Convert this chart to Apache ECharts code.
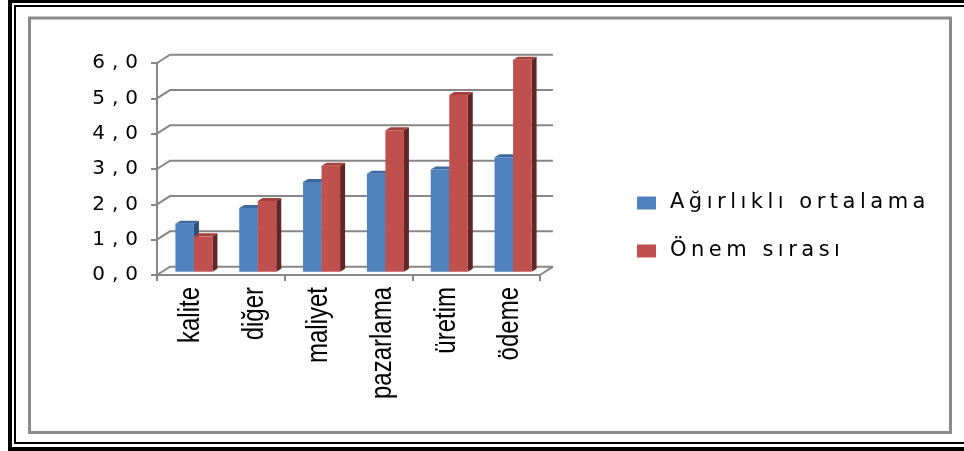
<!DOCTYPE html>
<html>
<head>
<meta charset="utf-8">
<title>Ağırlıklı ortalama ve önem sırası</title>
<script src="https://cdn.jsdelivr.net/npm/echarts@6/dist/echarts.min.js"></script>
<style>
  html, body { margin: 0; padding: 0; background: #ffffff; }
  #chart { width: 964px; height: 451px; }
</style>
</head>
<body>
<div id="chart"></div>
<script>
// Categories along the floor of the chart
const categories = ['kalite', 'diğer', 'maliyet', 'pazarlama', 'üretim', 'ödeme'];

// Series values
const seriesNames = ['Ağırlıklı ortalama', 'Önem sırası'];
const agirlikliOrtalama = [1.36, 1.80, 2.54, 2.77, 2.89, 3.24];
const onemSirasi = [1, 2, 3, 4, 5, 6];

// Value axis ticks and their labels
const yTicks = [0, 1, 2, 3, 4, 5, 6];
const yTickLabels = ['0,0', '1,0', '2,0', '3,0', '4,0', '5,0', '6,0'];

// Pseudo-3D geometry: back wall offset and bar depth
const WALL_DX = 13, WALL_DY = -8.3;
const BAR_DX = 5, BAR_DY = -3.3;
const DEPTH_X = 5, DEPTH_Y = -3;
const BAR_FRACTION = 0.29;

const AXIS_GRAY = '#878787';
const CATEGORY_LABEL_GAP = 12;

// Wrap each character in a rich-text token so the glyphs get extra tracking
function tracked(text, mid, last, first) {
  const chars = Array.from(text);
  return chars.map((c, i) => {
    let key = i < chars.length - 1 ? mid : last;
    if (i === 0 && first) key = first;
    return '{' + key + '|' + c + '}';
  }).join('');
}

function wallRenderer(params, api) {
  const v = api.value(1);
  const cs = params.coordSys;
  const y = api.coord([0, v])[1];
  const x0 = cs.x;
  const children = [{
    type: 'polyline',
    shape: { points: [[x0, y], [x0 + WALL_DX, y + WALL_DY], [x0 + cs.width + WALL_DX, y + WALL_DY]] },
    style: { stroke: AXIS_GRAY, lineWidth: 2, fill: null }
  }];
  if (v === 0) {
    children.push({
      type: 'line',
      shape: { x1: x0 + cs.width, y1: y, x2: x0 + cs.width + WALL_DX, y2: y + WALL_DY },
      style: { stroke: AXIS_GRAY, lineWidth: 2 }
    });
  }
  return { type: 'group', children: children };
}

function barRenderer(side, colors) {
  return function (params, api) {
    const idx = api.value(0);
    const v = api.value(1);
    const base = api.coord([idx, 0]);
    const top = api.coord([idx, v]);
    const band = api.size([1, 0])[0];
    const w = band * BAR_FRACTION;
    const cx = base[0] + BAR_DX;
    const x0 = side < 0 ? cx - w : cx;
    const x1 = x0 + w;
    const yb = base[1] + BAR_DY;
    const yt = top[1] + BAR_DY;
    return {
      type: 'group',
      children: [
        {
          type: 'polygon',
          shape: { points: [[x1, yb], [x1 + DEPTH_X, yb + DEPTH_Y], [x1 + DEPTH_X, yt + DEPTH_Y], [x1, yt]] },
          style: { fill: colors.side }
        },
        {
          type: 'polygon',
          shape: { points: [[x0, yt], [x1, yt], [x1 + DEPTH_X, yt + DEPTH_Y], [x0 + DEPTH_X, yt + DEPTH_Y]] },
          style: { fill: colors.top }
        },
        {
          type: 'rect',
          shape: { x: x0, y: yt, width: w, height: yb - yt },
          style: { fill: colors.front }
        }
      ]
    };
  };
}

// Category names under the floor, upright and condensed
function categoryLabelRenderer(params, api) {
  const idx = api.value(0);
  const p = api.coord([idx, 0]);
  return {
    type: 'text',
    x: p[0] + 2,
    y: p[1] + CATEGORY_LABEL_GAP,
    rotation: Math.PI / 2,
    scaleX: 0.8,
    scaleY: 1,
    style: {
      text: categories[idx],
      align: 'right',
      verticalAlign: 'middle',
      fill: '#000000',
      font: "30px 'Liberation Sans', Arial, sans-serif"
    }
  };
}

const blue = { front: '#4F81BD', top: '#3C6A9F', side: '#2D4F78' };
const red = { front: '#C0504D', top: '#A4413E', side: '#642624' };

const tickFont = { fontFamily: 'DejaVu Sans', fontSize: 20, color: '#000000', lineHeight: 22 };
const legendFont = { fontFamily: 'DejaVu Sans', fontSize: 21, color: '#000000', lineHeight: 24 };

const chart = echarts.init(document.getElementById('chart'), null, { renderer: 'canvas' });

chart.setOption({
  backgroundColor: '#ffffff',
  animation: false,
  graphic: [
    // double black frame (outer thick, inner thin)
    { type: 'rect', shape: { x: 8, y: 0, width: 4, height: 451 }, style: { fill: '#000' } },
    { type: 'rect', shape: { x: 8, y: 0, width: 956, height: 3 }, style: { fill: '#000' } },
    { type: 'rect', shape: { x: 8, y: 447, width: 956, height: 4 }, style: { fill: '#000' } },
    { type: 'rect', shape: { x: 14, y: 5, width: 2, height: 439 }, style: { fill: '#000' } },
    { type: 'rect', shape: { x: 14, y: 5, width: 950, height: 2 }, style: { fill: '#000' } },
    { type: 'rect', shape: { x: 14, y: 442, width: 950, height: 2 }, style: { fill: '#000' } },
    // chart area border
    {
      type: 'rect',
      shape: { x: 29.5, y: 18, width: 921, height: 414.5 },
      style: { fill: null, stroke: '#8A8A8A', lineWidth: 3 }
    }
  ],
  grid: {
    left: 157, top: 63, width: 383, height: 212,
    containLabel: false, outerBoundsMode: 'none'
  },
  legend: {
    orient: 'vertical',
    left: 637,
    top: 191,
    padding: 0,
    itemWidth: 19,
    itemHeight: 13,
    itemGap: 24,
    icon: 'rect',
    selectedMode: false,
    data: seriesNames,
    formatter: name => tracked(name, 'm', 'e', 'f'),
    textStyle: Object.assign({}, legendFont, {
      rich: {
        f: Object.assign({}, legendFont, { padding: [0, 4.5, 0, 9] }),
        m: Object.assign({}, legendFont, { padding: [0, 4.5, 0, 0] }),
        e: Object.assign({}, legendFont)
      }
    })
  },
  xAxis: {
    type: 'category',
    data: categories,
    boundaryGap: true,
    axisLine: { show: true, lineStyle: { color: AXIS_GRAY, width: 2 } },
    axisTick: { show: true, length: 6, alignWithLabel: false, lineStyle: { color: AXIS_GRAY, width: 2 } },
    axisLabel: { show: false },
    splitLine: { show: false }
  },
  yAxis: {
    type: 'value',
    min: 0,
    max: 6,
    interval: 1,
    axisLine: { show: true, lineStyle: { color: AXIS_GRAY, width: 2 } },
    axisTick: { show: true, length: 6, lineStyle: { color: AXIS_GRAY, width: 2 } },
    splitLine: { show: false },
    axisLabel: {
      margin: 19,
      formatter: value => tracked(yTickLabels[yTicks.indexOf(value)], 'm', 'e'),
      rich: {
        m: Object.assign({}, tickFont, { padding: [0, 7, 0, 0] }),
        e: Object.assign({}, tickFont)
      }
    }
  },
  series: [
    {
      name: 'wall',
      type: 'custom',
      silent: true,
      z: 1,
      renderItem: wallRenderer,
      encode: { x: 0, y: 1 },
      data: yTicks.map(v => [0, v])
    },
    {
      name: seriesNames[0],
      type: 'custom',
      z: 2,
      itemStyle: { color: blue.front },
      renderItem: barRenderer(-1, blue),
      encode: { x: 0, y: 1 },
      data: agirlikliOrtalama.map((v, i) => [i, v])
    },
    {
      name: seriesNames[1],
      type: 'custom',
      z: 2,
      itemStyle: { color: red.front },
      renderItem: barRenderer(1, red),
      encode: { x: 0, y: 1 },
      data: onemSirasi.map((v, i) => [i, v])
    },
    {
      name: 'categoryLabels',
      type: 'custom',
      silent: true,
      clip: false,
      z: 3,
      renderItem: categoryLabelRenderer,
      encode: { x: 0, y: 1 },
      data: categories.map((c, i) => [i, 0])
    }
  ]
});
</script>
</body>
</html>
